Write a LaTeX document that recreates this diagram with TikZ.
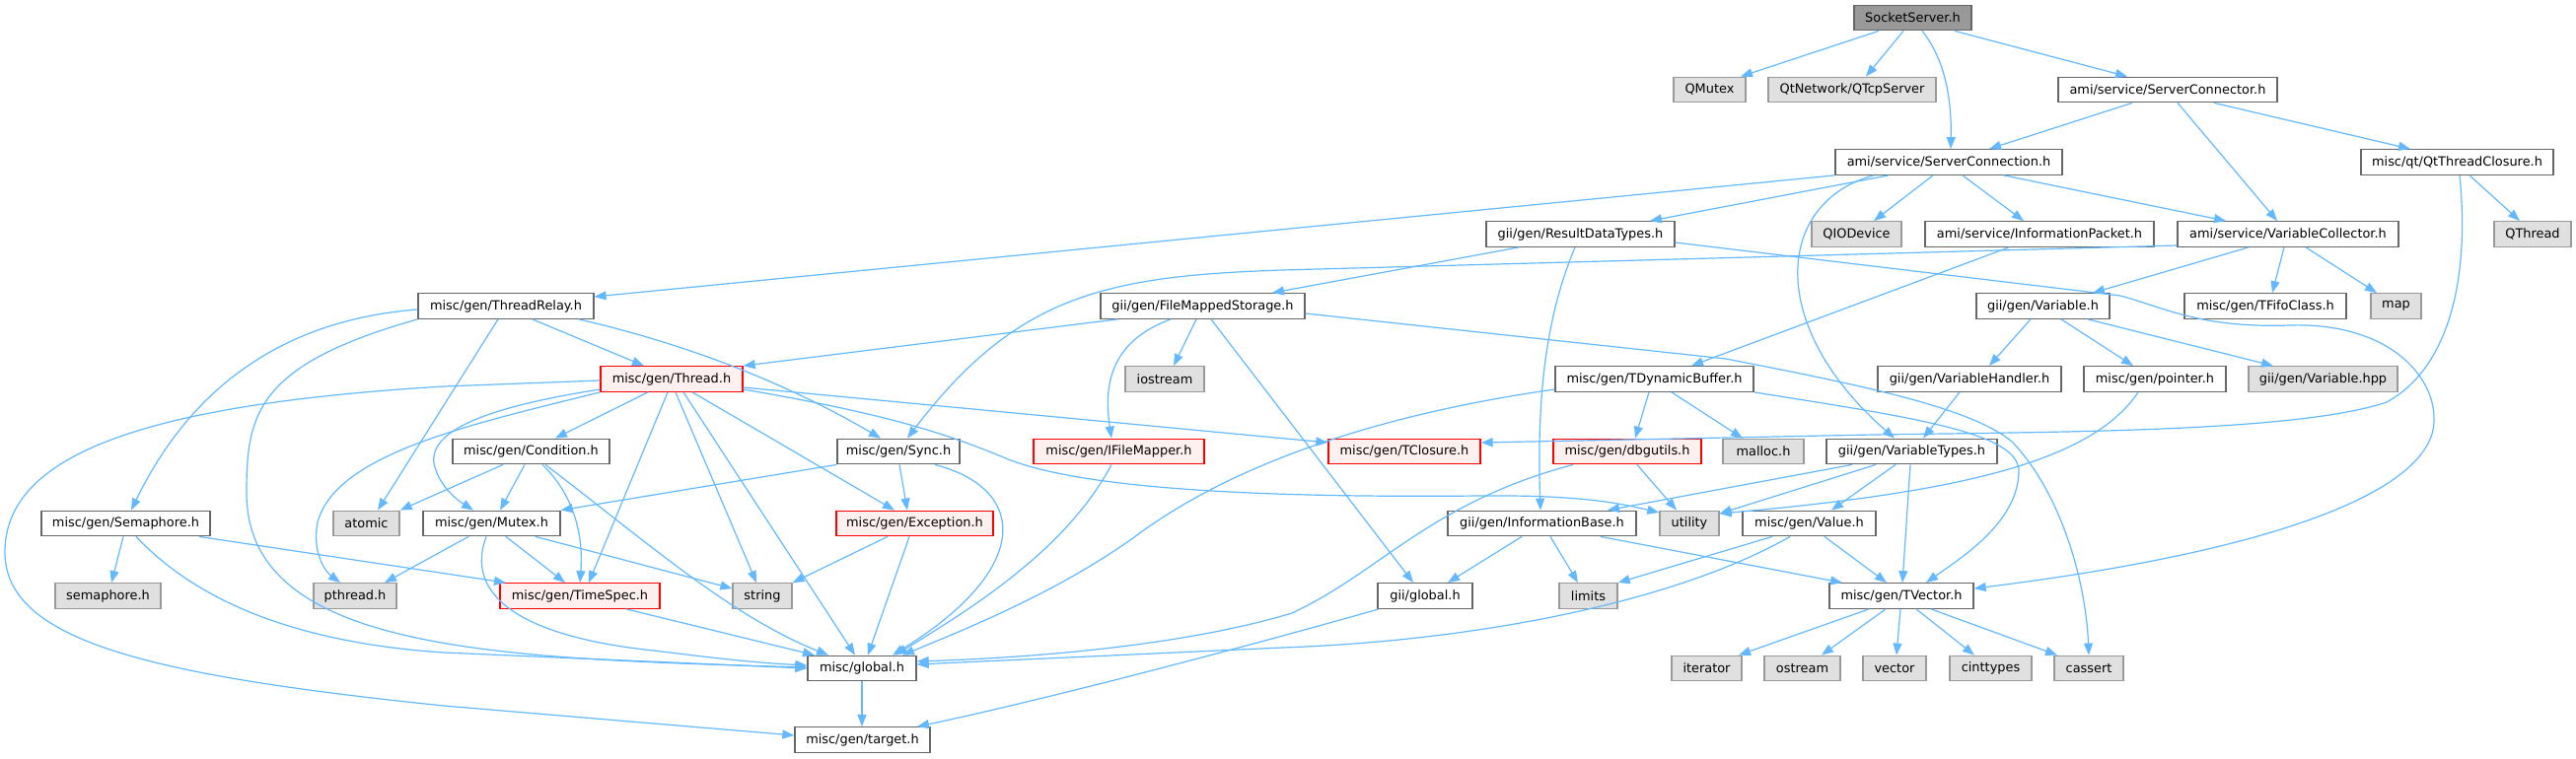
\documentclass[tikz,border=0pt]{standalone}
\usepackage{fontspec}
\setmainfont{DejaVu Sans}
\usetikzlibrary{arrows.meta}
\definecolor{edgec}{HTML}{63B8FF}
\definecolor{bord}{HTML}{666666}
\definecolor{gbord}{HTML}{999999}
\definecolor{gfill}{HTML}{E0E0E0}
\definecolor{rfill}{HTML}{FFF0F0}
\definecolor{rbord}{HTML}{FF0000}
\definecolor{dfill}{HTML}{999999}
\tikzset{
  nb/.style={draw=bord, fill=white, line width=1.3pt, minimum height=25.5pt, inner xsep=1pt, inner ysep=0pt, font=\fontsize{12.9}{15}\selectfont, text=black},
  gb/.style={nb, draw=gbord, fill=gfill},
  rb/.style={nb, draw=rbord, fill=rfill},
  db/.style={nb, draw=bord, fill=dfill},
  e/.style={draw=edgec, line width=1.2pt, -{Triangle[length=12pt,width=9pt]}},
}
\begin{document}
\begin{tikzpicture}[x=1pt,y=-1pt]
\useasboundingbox (0,0) rectangle (2612,769);
% row 0
\node[db, minimum width=119pt] (ss) at (1939.5,18) {SocketServer.h};
% row 1
\node[gb, minimum width=73pt] (qmutex) at (1733.5,91) {QMutex};
\node[gb, minimum width=170pt] (qtcp) at (1878,91) {QtNetwork/QTcpServer};
\node[nb, minimum width=222pt] (sconn) at (2198,91) {ami/service/ServerConnector.h};
% row 2
\node[nb, minimum width=230pt] (sc) at (1976,164.5) {ami/service/ServerConnection.h};
\node[nb, minimum width=195pt] (qtc) at (2491.5,164.5) {misc/qt/QtThreadClosure.h};
% row 3
\node[nb, minimum width=191pt] (rdt) at (1602.5,237.5) {gii/gen/ResultDataTypes.h};
\node[gb, minimum width=91pt] (qio) at (1882.5,237.5) {QIODevice};
\node[nb, minimum width=232pt] (ip) at (2068,237.5) {ami/service/InformationPacket.h};
\node[nb, minimum width=224pt] (vc) at (2320,237.5) {ami/service/VariableCollector.h};
\node[gb, minimum width=78pt] (qth) at (2568,237.5) {QThread};
% row 4
\node[nb, minimum width=178pt] (tr) at (513,310.5) {misc/gen/ThreadRelay.h};
\node[nb, minimum width=207pt] (fms) at (1219.5,310.5) {gii/gen/FileMappedStorage.h};
\node[nb, minimum width=135pt] (var) at (2071.5,310.5) {gii/gen/Variable.h};
\node[nb, minimum width=164pt] (fifo) at (2297,310.5) {misc/gen/TFifoClass.h};
\node[gb, minimum width=51pt] (map) at (2429.5,310.5) {map};
% row 5
\node[rb, minimum width=144pt] (thr) at (681,384.5) {misc/gen/Thread.h};
\node[gb, minimum width=80pt] (ios) at (1181,384.5) {iostream};
\node[nb, minimum width=201pt] (tdb) at (1677.5,384.5) {misc/gen/TDynamicBuffer.h};
\node[nb, minimum width=186pt] (vh) at (1997,384.5) {gii/gen/VariableHandler.h};
\node[nb, minimum width=144pt] (ptr) at (2185,384.5) {misc/gen/pointer.h};
\node[gb, minimum width=151pt] (vhpp) at (2355.5,384.5) {gii/gen/Variable.hpp};
% row 6
\node[nb, minimum width=159pt] (cond) at (538.5,458) {misc/gen/Condition.h};
\node[nb, minimum width=124pt] (sync) at (911,458) {misc/gen/Sync.h};
\node[rb, minimum width=173pt] (ifm) at (1134.5,458) {misc/gen/IFileMapper.h};
\node[rb, minimum width=154pt] (tcl) at (1424,458) {misc/gen/TClosure.h};
\node[rb, minimum width=150pt] (dbg) at (1650,458) {misc/gen/dbgutils.h};
\node[gb, minimum width=82pt] (malloc) at (1788,458) {malloc.h};
\node[nb, minimum width=173pt] (vt) at (1938.5,458) {gii/gen/VariableTypes.h};
% row 7
\node[nb, minimum width=171pt] (sem) at (127.5,531) {misc/gen/Semaphore.h};
\node[gb, minimum width=67pt] (atomic) at (371.5,531) {atomic};
\node[nb, minimum width=139pt] (mutex) at (498.5,531) {misc/gen/Mutex.h};
\node[rb, minimum width=159pt] (exc) at (927.5,531) {misc/gen/Exception.h};
\node[gb, minimum width=60pt] (util) at (1713,531) {utility};
\node[nb, minimum width=191pt] (ib) at (1563.5,531) {gii/gen/InformationBase.h};
\node[nb, minimum width=135pt] (val) at (1834.5,531) {misc/gen/Value.h};
% row 8
\node[gb, minimum width=107pt] (semh) at (109.5,604.5) {semaphore.h};
\node[gb, minimum width=84pt] (pth) at (360,604.5) {pthread.h};
\node[rb, minimum width=162pt] (ts) at (588,604.5) {misc/gen/TimeSpec.h};
\node[gb, minimum width=60pt] (str) at (773,604.5) {string};
\node[nb, minimum width=96pt] (gglob) at (1445,604.5) {gii/global.h};
\node[gb, minimum width=59pt] (lim) at (1610.5,604.5) {limits};
\node[nb, minimum width=146pt] (tv) at (1928,604.5) {misc/gen/TVector.h};
% row 9
\node[nb, minimum width=110pt] (mglob) at (874,678) {misc/global.h};
\node[gb, minimum width=71pt] (iter) at (1730.5,678) {iterator};
\node[gb, minimum width=77pt] (ost) at (1827.5,678) {ostream};
\node[gb, minimum width=64pt] (vec) at (1921,678) {vector};
\node[gb, minimum width=83pt] (cint) at (2018.5,678) {cinttypes};
\node[gb, minimum width=70pt] (cas) at (2118,678) {cassert};
% row 10
\node[nb, minimum width=137pt] (tgt) at (874.5,750.5) {misc/gen/target.h};

% ---------------- edges
\draw[e] (ss.south -| 1905,0) -- (qmutex.north -| 1765,0);
\draw[e] (ss.south -| 1930,0) -- (qtcp.north -| 1892,0);
\draw[e] (ss.south -| 1949,0) .. controls (1972,60) and (1979,100) .. (sc.north -| 1978,0);
\draw[e] (ss.south -| 1982,0) -- (sconn.north -| 2157,0);
\draw[e] (sconn.south -| 2162,0) -- (sc.north -| 2017,0);
\draw[e] (sconn.south -| 2208,0) -- (vc.north -| 2309,0);
\draw[e] (sconn.south -| 2245,0) -- (qtc.north -| 2444,0);
\draw[e] (qtc.south -| 2504,0) -- (qth.north -| 2555,0);
\draw[e] (qtc.south -| 2494,0) .. controls (2505,290) and (2480,375) .. (2420,408) .. controls (2330,438) and (2100,438) .. (1900,441) -- (tcl.east |- 0,449);
\draw[e] (sc.south west) -- (tr.east |- 0,301);
\draw[e] (sc.south -| 1915,0) -- (rdt.north -| 1673,0);
\draw[e] (sc.south -| 1900,0) .. controls (1800,205) and (1790,330) .. (vt.north -| 1921,0);
\draw[e] (sc.south -| 1960,0) -- (qio.north -| 1900,0);
\draw[e] (sc.south -| 1990,0) -- (ip.north -| 2052,0);
\draw[e] (sc.south -| 2032,0) -- (vc.north -| 2257,0);
\draw[e] (rdt.south -| 1540,0) -- (fms.north -| 1290,0);
\draw[e] (rdt.south -| 1597,0) .. controls (1568,320) and (1558,400) .. (ib.north -| 1562,0);
\draw[e] (rdt.east |- 0,246) -- (2150,300) .. controls (2195,312) and (2230,333) .. (2322,330) .. controls (2420,327) and (2470,380) .. (2468,428) .. controls (2465,500) and (2300,560) .. (tv.east |- 0,597);
\draw[e] (ip.south -| 2037,0) -- (tdb.north -| 1715,0);
\draw[e] (vc.south -| 2280,0) -- (var.north -| 2122,0);
\draw[e] (vc.south -| 2316,0) -- (fifo.north -| 2304,0);
\draw[e] (vc.south -| 2338,0) -- (map.north -| 2410,0);
\draw[e] (vc.west |- 0,249) -- (1300,274) .. controls (1120,280) and (1030,300) .. (sync.north -| 920,0);
\draw[e] (fms.south -| 1133,0) -- (thr.north east);
\draw[e] (fms.south -| 1213,0) -- (ios.north -| 1190,0);
\draw[e] (fms.south -| 1187,0) .. controls (1130,345) and (1118,385) .. (ifm.north -| 1127,0);
\draw[e] (fms.south -| 1228,0) -- (gglob.north -| 1433,0);
\draw[e] (fms.east |- 0,318) -- (1750,364) .. controls (1900,393) and (2000,415) .. (2040,448) .. controls (2090,500) and (2115,590) .. (cas.north -| 2118,0);
\draw[e] (tdb.south east) .. controls (1950,425) and (2050,440) .. (2047,480) .. controls (2045,530) and (1990,565) .. (tv.north -| 1953,0);
\draw[e] (tdb.south -| 1695,0) -- (malloc.north -| 1767,0);
\draw[e] (tdb.south -| 1672,0) -- (dbg.north -| 1658,0);
\draw[e] (tdb.west |- 0,395) .. controls (1400,420) and (1250,470) .. (1150,545) .. controls (1080,595) and (1000,630) .. (mglob.north -| 915,0);
\draw[e] (var.south -| 2059,0) -- (vh.north -| 2017,0);
\draw[e] (var.south -| 2090,0) -- (ptr.north -| 2163,0);
\draw[e] (var.south -| 2117,0) -- (vhpp.north -| 2305,0);
\draw[e] (vh.south -| 1987,0) -- (vt.north -| 1950,0);
\draw[e] (ptr.south -| 2168,0) .. controls (2120,470) and (1980,500) .. (util.east |- 0,521);
\draw[e] (vt.south -| 1878,0) -- (ib.north -| 1630,0);
\draw[e] (vt.south -| 1902,0) -- (util.east |- 0,521);
\draw[e] (vt.south -| 1922,0) -- (val.north -| 1857,0);
\draw[e] (vt.south -| 1937,0) -- (tv.north -| 1929,0);
\draw[e] (val.south -| 1797,0) -- (lim.north east);
\draw[e] (val.south -| 1815,0) .. controls (1700,610) and (1500,650) .. (1300,657) -- (mglob.east |- 0,674);
\draw[e] (val.south -| 1850,0) -- (tv.north -| 1913,0);
\draw[e] (ib.south -| 1543,0) -- (gglob.north -| 1468,0);
\draw[e] (ib.south -| 1572,0) -- (lim.north -| 1600,0);
\draw[e] (ib.south -| 1623,0) -- (tv.north -| 1868,0);
\draw[e] (gglob.south -| 1398,0) .. controls (1250,660) and (1050,712) .. (tgt.north -| 930,0);
\draw[e] (tv.south -| 1895,0) -- (iter.north -| 1763,0);
\draw[e] (tv.south -| 1912,0) -- (ost.north -| 1847,0);
\draw[e] (tv.south -| 1927,0) -- (vec.north -| 1923,0);
\draw[e] (tv.south -| 1943,0) -- (cint.north -| 2002,0);
\draw[e] (tv.south -| 1958,0) -- (cas.north -| 2086,0);
\draw[e] (dbg.south -| 1660,0) -- (util.north -| 1700,0);
\draw[e] (dbg.south -| 1595,0) .. controls (1450,510) and (1400,580) .. (1310,622) .. controls (1200,655) and (1050,667) .. (mglob.east |- 0,671);
\draw[e] (ifm.south -| 1127,0) .. controls (1080,560) and (980,620) .. (mglob.north -| 908,0);
\draw[e] (sync.south west) -- (mutex.north east);
\draw[e] (sync.south -| 912,0) -- (exc.north -| 920,0);
\draw[e] (sync.south -| 948,0) .. controls (1040,495) and (1050,575) .. (mglob.north -| 905,0);
\draw[e] (exc.south -| 900,0) -- (str.north east);
\draw[e] (exc.south -| 922,0) -- (mglob.north -| 880,0);
\draw[e] (tr.west |- 0,314) .. controls (280,325) and (190,400) .. (sem.north -| 133,0);
\draw[e] (tr.south -| 505,0) -- (atomic.north -| 383,0);
\draw[e] (tr.south west) .. controls (260,370) and (250,420) .. (250,500) .. controls (250,660) and (500,668) .. (mglob.west |- 0,677);
\draw[e] (tr.south -| 540,0) -- (thr.north -| 653,0);
\draw[e] (tr.south -| 587,0) .. controls (700,350) and (800,390) .. (sync.north -| 893,0);
\draw[e] (thr.west |- 0,386) -- (450,392) .. controls (150,410) and (5,460) .. (5,560) .. controls (5,650) and (150,685) .. (450,716) -- (tgt.west |- 0,746);
\draw[e] (thr.south west) .. controls (480,430) and (340,460) .. (322,530) .. controls (316,560) and (330,580) .. (pth.north -| 345,0);
\draw[e] (thr.west |- 0,395) .. controls (500,412) and (435,435) .. (440,470) .. controls (444,490) and (460,505) .. (mutex.north -| 480,0);
\draw[e] (thr.south -| 657,0) -- (cond.north -| 563,0);
\draw[e] (thr.south -| 677,0) -- (ts.north -| 597,0);
\draw[e] (thr.south -| 685,0) -- (str.north -| 767,0);
\draw[e] (thr.south -| 693,0) -- (mglob.north -| 867,0);
\draw[e] (thr.south -| 702,0) -- (exc.north -| 907,0);
\draw[e] (thr.east |- 0,393) -- (tcl.west |- 0,449);
\draw[e] (thr.east |- 0,395) .. controls (900,420) and (960,440) .. (1020,465) .. controls (1100,498) and (1300,505) .. (1500,503) .. controls (1600,502) and (1640,510) .. (util.west |- 0,520);
\draw[e] (cond.south -| 510,0) -- (atomic.north east);
\draw[e] (cond.south -| 532,0) -- (mutex.north -| 507,0);
\draw[e] (cond.south -| 550,0) .. controls (580,500) and (592,540) .. (ts.north -| 588,0);
\draw[e] (cond.south -| 553,0) .. controls (650,545) and (740,625) .. (mglob.north -| 840,0);
\draw[e] (mutex.south -| 475,0) -- (pth.north -| 390,0);
\draw[e] (mutex.south -| 513,0) -- (ts.north -| 573,0);
\draw[e] (mutex.south -| 543,0) -- (str.west |- 0,597);
\draw[e] (mutex.south -| 493,0) .. controls (472,600) and (520,645) .. (663,660) .. controls (720,667) and (760,672) .. (mglob.west |- 0,675);
\draw[e] (ts.south -| 635,0) -- (mglob.north -| 826,0);
\draw[e] (sem.south -| 125,0) -- (semh.north -| 113,0);
\draw[e] (sem.south -| 202,0) -- (ts.north -| 513,0);
\draw[e] (sem.south -| 138,0) .. controls (200,610) and (300,652) .. (450,662) -- (mglob.west |- 0,678);
\draw[e] (mglob.south) -- (tgt.north -| 874,0);
\end{tikzpicture}
\end{document}
